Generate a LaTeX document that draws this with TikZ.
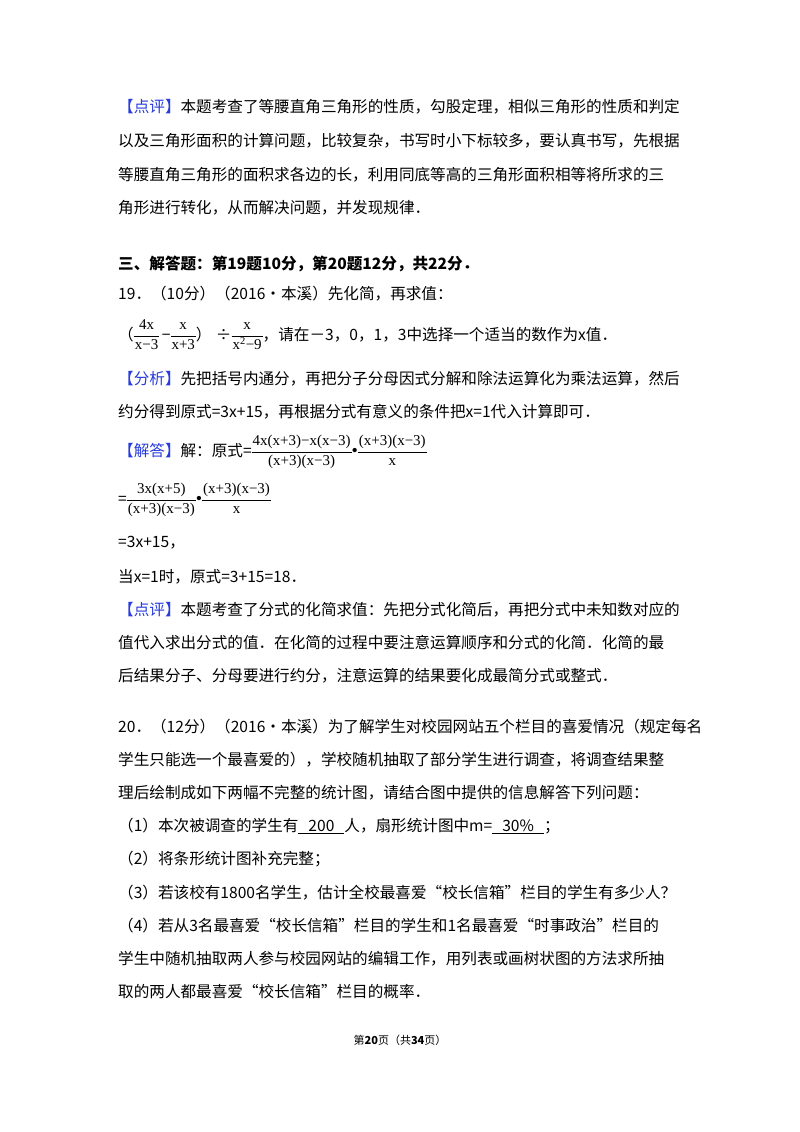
\documentclass[tikz,border=0pt]{standalone}
\usepackage{fontspec}
\setmainfont{Noto Sans CJK SC}
\newfontfamily\ser{Liberation Serif}
\definecolor{bl}{RGB}{40,60,220}
\newcommand{\bk}[1]{\textcolor{bl}{【#1】}}
\newcommand{\dt}{{\ser\fontsize{18}{18}\selectfont •}}
\newcommand{\fr}[2]{\raisebox{1pt}{\ser\fontsize{15}{17}\selectfont\setlength{\tabcolsep}{1pt}\renewcommand{\arraystretch}{1.15}\begin{tabular}{c}#1\\\hline #2\end{tabular}}}
\begin{document}
\begin{tikzpicture}[x=1pt,y=-1pt,
 ln/.style={anchor=west,inner sep=0pt,font=\fontsize{15.6}{18}\selectfont}]
\useasboundingbox[fill=white] (0,0) rectangle (800,1132);
\node[ln] (a1) at (118,107) {\bk{点评}本题考查了等腰直角三角形的性质，勾股定理，相似三角形的性质和判定};
\node[ln] (a2) at (118,141) {以及三角形面积的计算问题，比较复杂，书写时小下标较多，要认真书写，先根据};
\node[ln] (a3) at (118,175) {等腰直角三角形的面积求各边的长，利用同底等高的三角形面积相等将所求的三};
\node[ln] (a4) at (118,208) {角形进行转化，从而解决问题，并发现规律．};
\node[ln,font=\fontsize{15.6}{18}\selectfont\bfseries] (b1) at (118,264) {三、解答题：第19题10分，第20题12分，共22分．};
\node[ln] (b2) at (118,294) {19．（10分）（2016•本溪）先化简，再求值：};
\node[ln] (b3) at (118,336) {（\fr{4x}{x−3}\,−\fr{x}{x+3}）\;÷\fr{x}{x\textsuperscript{2}−9}，请在－3，0，1，3中选择一个适当的数作为x值．};
\node[ln] (c1) at (118,379) {\bk{分析}先把括号内通分，再把分子分母因式分解和除法运算化为乘法运算，然后};
\node[ln] (c2) at (118,412) {约分得到原式=3x+15，再根据分式有意义的条件把x=1代入计算即可．};
\node[ln] (d1) at (118,452) {\bk{解答}解：原式=\fr{4x(x+3)−x(x−3)}{(x+3)(x−3)}\dt\fr{(x+3)(x−3)}{x}};
\node[ln] (d2) at (118,500) {=\fr{3x(x+5)}{(x+3)(x−3)}\dt\fr{(x+3)(x−3)}{x}};
\node[ln] (d3) at (118,543) {=3x+15，};
\node[ln] (d4) at (118,577) {当x=1时，原式=3+15=18．};
\node[ln] (e1) at (118,610) {\bk{点评}本题考查了分式的化简求值：先把分式化简后，再把分式中未知数对应的};
\node[ln] (e2) at (118,643) {值代入求出分式的值．在化简的过程中要注意运算顺序和分式的化简．化简的最};
\node[ln] (e3) at (118,676) {后结果分子、分母要进行约分，注意运算的结果要化成最简分式或整式．};
\node[ln] (f1) at (118,727) {20．（12分）（2016•本溪）为了解学生对校园网站五个栏目的喜爱情况（规定每名};
\node[ln] (f2) at (118,760) {学生只能选一个最喜爱的），学校随机抽取了部分学生进行调查，将调查结果整};
\node[ln] (f3) at (118,793) {理后绘制成如下两幅不完整的统计图，请结合图中提供的信息解答下列问题：};
\node[ln] (f4) at (118,826) {（1）本次被调查的学生有\underline{\hspace{10pt}200\hspace{10pt}}人，扇形统计图中m=\underline{\hspace{10pt}30\%\hspace{10pt}}；};
\node[ln] (f5) at (118,859) {（2）将条形统计图补充完整；};
\node[ln] (f6) at (118,893) {（3）若该校有1800名学生，估计全校最喜爱“校长信箱”栏目的学生有多少人？};
\node[ln] (f7) at (118,926) {（4）若从3名最喜爱“校长信箱”栏目的学生和1名最喜爱“时事政治”栏目的};
\node[ln] (f8) at (118,959) {学生中随机抽取两人参与校园网站的编辑工作，用列表或画树状图的方法求所抽};
\node[ln] (f9) at (118,992) {取的两人都最喜爱“校长信箱”栏目的概率．};
\node[inner sep=0pt,font=\fontsize{11}{13}\selectfont] (pg) at (400,1040) {第\textbf{20}页（共\textbf{34}页）};
\end{tikzpicture}
\end{document}
